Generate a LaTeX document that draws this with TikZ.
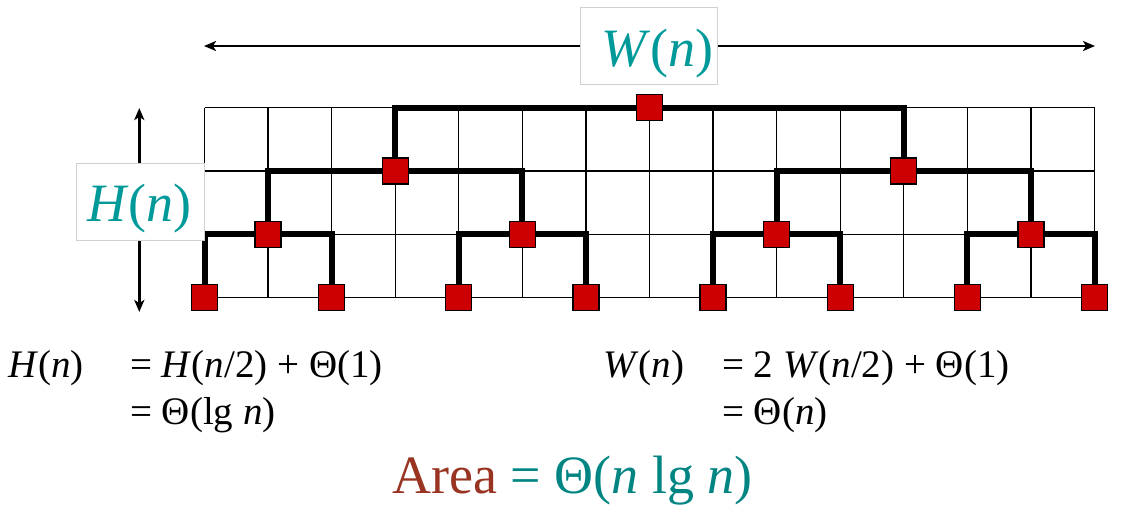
\documentclass[tikz,border=0pt]{standalone}
\usepackage{fontspec}
\setmainfont{Liberation Serif}
\usetikzlibrary{arrows.meta}
\pgfdeclarelayer{background}
\pgfsetlayers{background,main}
\definecolor{sqred}{HTML}{CC0000}
\definecolor{lblteal}{HTML}{009999}
\definecolor{areateal}{HTML}{008583}
\definecolor{areared}{HTML}{993322}
\tikzset{
  sq/.style={draw=black, line width=1.3pt, fill=sqred, minimum size=26pt, inner sep=0pt, outer sep=0pt},
  edge/.style={line width=6pt, black},
  gridln/.style={line width=1.4pt, black},
  dimarrow/.style={line width=2.4pt, {Stealth[length=12pt,width=10pt,inset=3pt]}-{Stealth[length=12pt,width=10pt,inset=3pt]}},
  lblbox/.style={draw=black!18, line width=1pt, fill=white, inner sep=0pt},
  lbl/.style={font=\fontsize{54}{60}\selectfont, text=lblteal, inner sep=0pt, anchor=base west},
  eq/.style={font=\fontsize{39}{47}\selectfont, inner sep=0pt, anchor=base west},
  areatxt/.style={font=\fontsize{54}{60}\selectfont, inner sep=0pt, anchor=base west}
}
\begin{document}
\begin{tikzpicture}[x=1pt,y=-1pt]
\useasboundingbox (0,0) rectangle (1143,517);
\def\gx{204.5}\def\gdx{63.571}
\def\ya{297.7}\def\yb{234.4}\def\yc{171.0}\def\yd{107.7}
% leaves
\foreach \k in {0,...,7} {
  \node[sq] (L\k) at ({\gx+2*\k*\gdx},\ya) {};
}
% level 1
\foreach \j in {0,...,3} {
  \node[sq] (A\j) at ({\gx+(4*\j+1)*\gdx},\yb) {};
}
% level 2
\foreach \i in {0,1} {
  \node[sq] (B\i) at ({\gx+(8*\i+3)*\gdx},\yc) {};
}
\node[sq] (R) at ({\gx+7*\gdx},\yd) {};
\begin{pgfonlayer}{background}
  \fill[white] (0,0) rectangle (1143,517);
  \foreach \c in {0,...,14} {
    \draw[gridln] ({\gx+\c*\gdx},\yd) -- ({\gx+\c*\gdx},\ya);
  }
  \foreach \yy in {\ya,\yb,\yc,\yd} {
    \draw[gridln] (\gx,\yy) -- ({\gx+14*\gdx},\yy);
  }
  \draw[edge] (L0.center) |- (A0.center) -| (L1.center);
  \draw[edge] (L2.center) |- (A1.center) -| (L3.center);
  \draw[edge] (L4.center) |- (A2.center) -| (L5.center);
  \draw[edge] (L6.center) |- (A3.center) -| (L7.center);
  \draw[edge] (A0.center) |- (B0.center) -| (A1.center);
  \draw[edge] (A2.center) |- (B1.center) -| (A3.center);
  \draw[edge] (B0.center) |- (R.center) -| (B1.center);
\end{pgfonlayer}
% width arrow and label
\coordinate (wl) at (204,46);
\coordinate (wr) at (1095,46);
\draw[dimarrow] (wl) -- (wr);
\node[lblbox, minimum width=137pt, minimum height=77pt] (wbox) at (648.5,45.5) {};
\node[lbl] (wlabel) at (601,66) {\textit{W}(\textit{n})};
% height arrow and label
\coordinate (ht) at (139.3,108);
\coordinate (hb) at (139.3,312);
\draw[dimarrow] (ht) -- (hb);
\node[lblbox, minimum width=128pt, minimum height=77pt] (hbox) at (140,201.5) {};
\node[lbl] (hlabel) at (87,221) {\textit{H}(\textit{n})};
% equations
\node[eq] (eqH) at (8,377) {\textit{H}(\textit{n})};
\node[eq] (eqH1) at (130,377) {= \textit{H}(\textit{n}/2) + Θ(1)};
\node[eq] (eqH2) at (130,424) {= Θ(lg \textit{n})};
\node[eq] (eqW) at (603,377) {\textit{W}(\textit{n})};
\node[eq] (eqW1) at (722,377) {= 2 \textit{W}(\textit{n}/2) + Θ(1)};
\node[eq] (eqW2) at (722,424) {= Θ(\textit{n})};
\node[areatxt] (area) at (392,493) {\textcolor{areared}{Area} \textcolor{areateal}{= Θ(\textit{n} lg \textit{n})}};
\end{tikzpicture}
\end{document}
